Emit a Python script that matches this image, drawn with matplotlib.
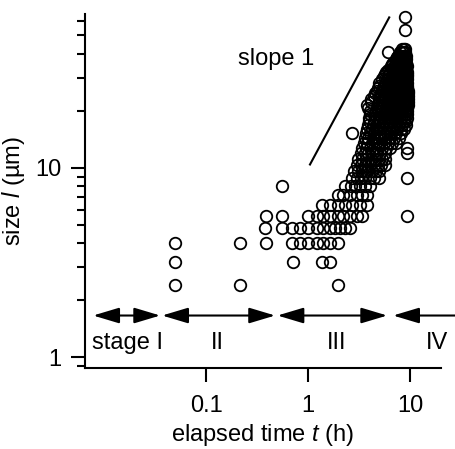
import matplotlib
matplotlib.use("Agg")
import matplotlib.pyplot as plt
from matplotlib.ticker import FixedLocator, FixedFormatter, LogLocator, NullFormatter, NullLocator

plt.rcParams['font.family'] = ['Liberation Sans', 'DejaVu Sans']
plt.rcParams['mathtext.fontset'] = 'custom'
plt.rcParams['mathtext.rm'] = 'Liberation Sans'
plt.rcParams['mathtext.it'] = 'Liberation Sans:italic'

# ---- data: crystal size levels (um) and elapsed times (h) observed at each level ----
size_levels = [2.4, 3.2, 4.0, 4.8, 5.6, 6.4, 7.2, 8.0, 8.8, 9.6, 10.4, 11.2, 12.0, 12.8,
               13.6, 14.4, 15.2, 16.0, 16.8, 17.6, 18.4, 19.2, 20.0, 20.8, 21.6, 22.4,
               23.2, 24.0, 24.8, 25.6, 26.4, 27.2, 28.0, 29.6, 30.4, 31.2, 32.0, 32.8,
               34.4, 35.2, 36.0, 37.6, 38.4, 39.2, 40.8, 42.4, 53.6, 62.4]
times_at_level = [
    [0.05, 0.215, 1.94],
    [0.05, 0.71, 1.37, 1.65],
    [0.05, 0.215, 0.39, 0.70, 0.83, 1.0, 1.23, 1.4, 1.65, 1.96],
    [0.38, 0.556, 0.70, 0.84, 1.0, 1.23, 1.4, 1.65, 1.84, 2.06, 2.31, 2.58],
    [0.39, 0.556, 1.0, 1.23, 1.4, 1.65, 1.94, 2.2, 2.58, 3.0, 3.4, 9.3],
    [1.37, 1.65, 1.94, 2.31, 2.7, 3.24, 3.8],
    [1.94, 2.2, 2.58, 3.0, 3.4, 3.8],
    [0.556, 2.31, 2.6, 2.9, 3.2, 3.6, 4.0],
    [2.7, 3.0, 3.3, 3.6, 4.0, 4.4, 4.9, 9.3],
    [2.8, 3.1, 3.4, 3.8, 4.2, 4.6, 5.0],
    [3.0, 3.3, 3.6, 4.0, 4.4, 4.8, 5.2, 5.6],
    [3.1, 3.4, 3.7, 4.1, 4.5, 4.9, 5.3, 5.6],
    [3.3, 3.6, 3.9, 4.3, 4.7, 5.1, 5.6, 9.3],
    [3.4, 3.7, 4.0, 4.4, 4.8, 5.3, 5.8, 6.4, 9.3],
    [3.5, 3.8, 4.2, 4.6, 5.0, 5.5, 6.0, 6.6, 7.3],
    [3.6, 3.9, 4.3, 4.7, 5.2, 5.7, 6.3, 6.9, 7.8],
    [2.7, 3.7, 4.0, 4.4, 4.9, 5.4, 5.9, 6.5, 7.2, 8.2],
    [3.8, 4.2, 4.6, 5.1, 5.6, 6.2, 6.8, 7.5, 8.2, 8.7],
    [3.9, 4.3, 4.8, 5.3, 5.8, 6.4, 7.0, 7.7, 8.4, 9.1],
    [3.95, 4.4, 4.9, 5.4, 6.0, 6.6, 7.2, 7.9, 8.6, 9.2],
    [3.95, 4.5, 5.0, 5.5, 6.1, 6.7, 7.4, 8.1, 8.7, 9.3],
    [4.0, 4.5, 5.1, 5.7, 6.3, 6.9, 7.5, 8.2, 8.8, 9.3],
    [4.0, 4.6, 5.2, 5.8, 6.4, 7.0, 7.7, 8.3, 8.9, 9.4],
    [3.9, 4.7, 5.3, 5.9, 6.5, 7.1, 7.8, 8.4, 9.0, 9.4],
    [3.8, 4.8, 5.4, 6.0, 6.6, 7.2, 7.9, 8.5, 9.0, 9.5],
    [4.1, 4.9, 5.5, 6.1, 6.7, 7.3, 8.0, 8.6, 9.1, 9.5],
    [4.1, 5.0, 5.6, 6.2, 6.8, 7.4, 8.1, 8.6, 9.1, 9.5],
    [4.4, 5.1, 5.7, 6.3, 6.9, 7.5, 8.1, 8.7, 9.2, 9.5],
    [4.5, 5.2, 5.8, 6.4, 7.0, 7.6, 8.2, 8.7, 9.2, 9.5],
    [4.7, 5.3, 5.9, 6.5, 7.1, 7.7, 8.3, 8.8, 9.2, 9.5],
    [4.8, 5.4, 6.0, 6.6, 7.2, 7.8, 8.3, 8.8, 9.3],
    [5.0, 5.5, 6.1, 6.7, 7.3, 7.9, 8.4, 8.9, 9.3],
    [5.0, 5.6, 6.2, 6.8, 7.4, 7.9, 8.4, 8.9, 9.4],
    [5.3, 5.9, 6.5, 7.1, 7.6, 8.1, 8.6, 9.0, 9.4],
    [5.5, 6.1, 6.7, 7.2, 7.7, 8.2, 8.7, 9.1, 9.4],
    [5.6, 6.2, 6.8, 7.3, 7.8, 8.3, 8.7, 9.1, 9.4],
    [5.8, 6.4, 6.9, 7.4, 7.9, 8.4, 8.8, 9.1, 9.4],
    [6.0, 6.6, 7.1, 7.6, 8.0, 8.5, 8.9, 9.2],
    [6.5, 7.0, 7.5, 7.9, 8.3, 8.7, 9.0, 9.3],
    [6.7, 7.2, 7.6, 8.0, 8.4, 8.8, 9.1],
    [6.8, 7.3, 7.7, 8.1, 8.5, 8.9, 9.2],
    [7.2, 7.6, 8.0, 8.4, 8.8, 9.1],
    [7.4, 7.8, 8.2, 8.6, 8.9],
    [7.6, 8.0, 8.4, 8.7, 9.0],
    [6.0, 8.0, 8.3, 8.6, 8.9],
    [8.3, 8.6, 8.8],
    [8.9],
    [8.9],
]

# slope-1 guide line endpoints (t, l)
slope_t = [1.03, 6.3]
slope_l = [10.3, 63.0]

# stage boundaries (arrow tips, h) and labels
stage_spans = [(0.0078, 0.0354), (0.037, 0.474), (0.50, 5.95)]
stage4_start, stage4_end = 6.8, 27.6
arrow_level = 1.66
stage_names = ["stage I", "II", "III", "IV"]
stage_label_t = [0.017, 0.13, 1.9, 18.5]
stage_label_l = 1.19

x_ticks = [0.1, 1, 10]
x_ticklabels = ["0.1", "1", "10"]
y_ticks = [1, 10]
y_ticklabels = ["1", "10"]

t_all, l_all = [], []
for lvl, ts in zip(size_levels, times_at_level):
    for t in ts:
        t_all.append(t)
        l_all.append(lvl)

fig = plt.figure(figsize=(4.55, 4.49), dpi=100)
ax = fig.add_axes([0.187, 0.180, 0.782, 0.789])
ax.set_xscale('log')
ax.set_yscale('log')
ax.set_xlim(0.0065, 20)
ax.set_ylim(0.875, 65)

ax.plot(t_all, l_all, linestyle='none', marker='o', ms=8.3, mfc='none',
        mec='black', mew=1.3, clip_on=False)

ax.plot(slope_t, slope_l, color='black', lw=1.5, solid_capstyle='butt')
ax.text(0.485, 37.5, "slope 1", fontsize=17, ha='center', va='center')

aprops = dict(arrowstyle='<|-|>,head_length=16,head_width=4.8', color='black',
              lw=1.5, shrinkA=0, shrinkB=0, mutation_scale=1)
for a, b in stage_spans:
    ax.annotate("", xy=(b, arrow_level), xytext=(a, arrow_level),
                arrowprops=aprops, annotation_clip=False)
aprops4 = dict(aprops)
aprops4['arrowstyle'] = '-|>,head_length=16,head_width=4.8'
ax.annotate("", xy=(stage4_start, arrow_level), xytext=(stage4_end, arrow_level),
            arrowprops=aprops4, annotation_clip=False)
for name, tl in zip(stage_names, stage_label_t):
    ax.text(tl, stage_label_l, name, fontsize=17, ha='center', va='center')

for s in ['top', 'right']:
    ax.spines[s].set_visible(False)
for s in ['left', 'bottom']:
    ax.spines[s].set_linewidth(1.5)

ax.xaxis.set_major_locator(FixedLocator(x_ticks))
ax.xaxis.set_major_formatter(FixedFormatter(x_ticklabels))
ax.xaxis.set_minor_locator(NullLocator())
ax.yaxis.set_major_locator(FixedLocator(y_ticks))
ax.yaxis.set_major_formatter(FixedFormatter(y_ticklabels))
ax.yaxis.set_minor_locator(LogLocator(base=10, subs=[2, 3, 4, 5, 6, 7, 8, 9]))
ax.yaxis.set_minor_formatter(NullFormatter())

ax.tick_params(axis='both', which='major', direction='out', length=10, width=1.5,
               labelsize=17, pad=7)
ax.tick_params(axis='y', which='minor', direction='out', length=6, width=1.5)
ax.tick_params(axis='x', which='major', pad=9)

ax.set_xlabel("elapsed time $t$ (h)", fontsize=17, labelpad=4)
ax.set_ylabel("size $l$ (µm)", fontsize=17, labelpad=6)

fig.savefig("out.png", dpi=100)
